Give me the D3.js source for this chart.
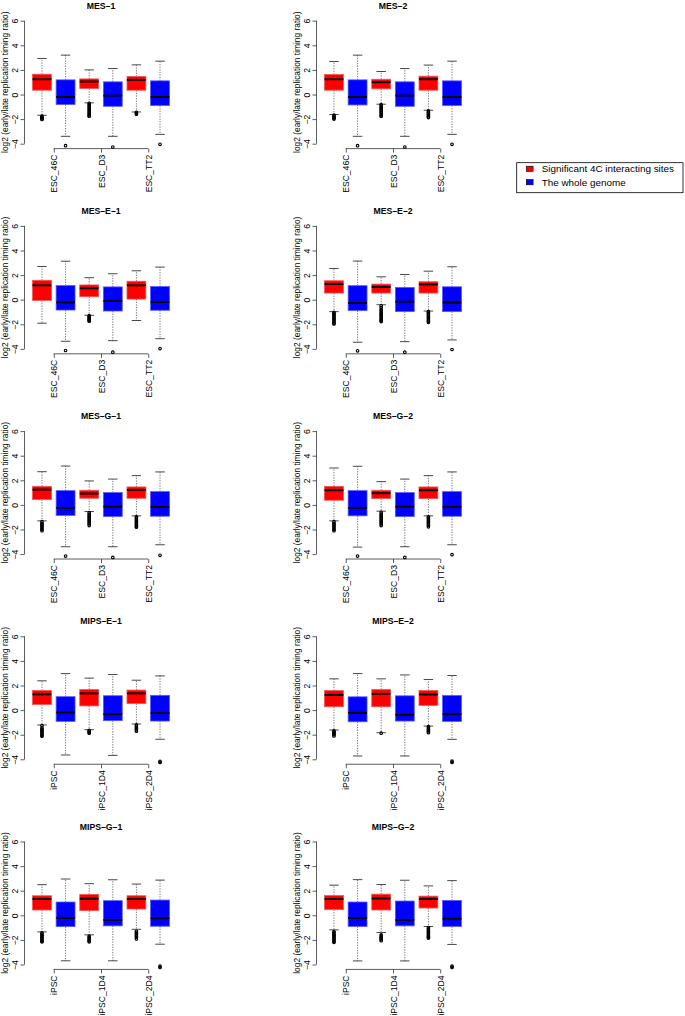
<!DOCTYPE html>
<html>
<head>
<meta charset="utf-8">
<script src="https://cdn.jsdelivr.net/npm/d3@7"></script>
<style>
  body { margin: 0; background: #fff; }
  svg { display: block; font-family: "Liberation Sans", Arial, Helvetica, sans-serif; }
</style>
</head>
<body>
<svg id="chart" width="685" height="1016"></svg>
<script>
// ---------------- DATA ----------------
const panelTitles = ["MES\u20131","MES\u20132","MES\u2013E\u20131","MES\u2013E\u20132","MES\u2013G\u20131","MES\u2013G\u20132","MIPS\u2013E\u20131","MIPS\u2013E\u20132","MIPS\u2013G\u20131","MIPS\u2013G\u20132"];
const mesGroups = ["ESC_46C","ESC_D3","ESC_TT2"];
const mipsGroups = ["iPSC","iPSC_1D4","iPSC_2D4"];
const seriesNames = ["Significant 4C interacting sites","The whole genome"];
const seriesColors = ["#ff0000","#0000ff"];
const yTicks = [-4,-2,0,2,4,6];
const yLabel = "log2 (early/late replication timing ratio)";

// box stats per panel: [lowerWhisker, Q1, median, Q3, upperWhisker]
// order: group1 sig, group1 genome, group2 sig, group2 genome, group3 sig, group3 genome
const mes1Stats = [[-1.69,0.35,1.24,1.65,2.93],[-3.40,-0.82,-0.20,1.19,3.20],[-0.68,0.48,1.05,1.27,2.00],[-3.40,-0.96,-0.09,1.03,2.11],[-1.42,0.35,1.19,1.46,2.41],[-3.24,-0.90,-0.20,1.11,2.71]];
const mes1Outliers = [[-1.75,-1.82,-1.9,-1.97,-2.03],[-4.16],[-0.72,-0.82,-0.92,-1.02,-1.12,-1.22,-1.32,-1.42,-1.52,-1.62,-1.72,-1.77],[-4.27],[-1.45,-1.52,-1.6],[-4.05]];

const mes2Stats = [[-1.63,0.35,1.24,1.63,2.68],[-3.40,-0.85,-0.20,1.19,3.20],[-0.79,0.46,1.00,1.24,1.87],[-3.40,-0.96,-0.09,1.03,2.11],[-1.28,0.35,1.24,1.49,2.39],[-3.24,-0.90,-0.20,1.11,2.71]];
const mes2Outliers = [[-1.68,-1.76,-1.84,-1.92,-2.0],[-4.16],[-0.83,-0.93,-1.03,-1.13,-1.23,-1.33,-1.43,-1.53,-1.63,-1.73,-1.77],[-4.27],[-1.33,-1.42,-1.51,-1.6,-1.7,-1.8,-1.88],[-4.05]];

const mesE1Stats = [[-1.91,-0.06,1.17,1.58,2.70],[-3.38,-0.84,-0.22,1.15,3.13],[-1.27,0.24,0.93,1.20,1.79],[-3.33,-0.92,-0.11,1.04,2.11],[-1.69,0.05,1.17,1.50,2.35],[-3.17,-0.86,-0.19,1.07,2.65]];
const mesE1Outliers = [[],[-4.13],[-1.3,-1.38,-1.46,-1.54,-1.62,-1.7,-1.75],[-4.27],[],[-3.97]];

const mesE2Stats = [[-0.97,0.54,1.27,1.54,2.54],[-3.46,-0.89,-0.27,1.14,3.14],[-0.41,0.54,1.03,1.27,1.86],[-3.41,-0.97,-0.16,1.00,2.05],[-0.92,0.54,1.24,1.46,2.32],[-3.27,-0.97,-0.22,1.05,2.68]];
const mesE2Outliers = [[-1.02,-1.1,-1.2,-1.3,-1.4,-1.5,-1.6,-1.7,-1.8,-1.9,-1.97],[-4.16],[-0.5,-0.65,-0.8,-0.9,-1.0,-1.1,-1.2,-1.3,-1.4,-1.5,-1.6,-1.7,-1.78],[-4.27],[-0.97,-1.05,-1.15,-1.25,-1.35,-1.45,-1.55,-1.65,-1.75,-1.84],[-4.05]];

const mesG1Stats = [[-1.30,0.43,1.24,1.51,2.70],[-3.40,-0.86,-0.24,1.16,3.16],[-0.54,0.54,0.92,1.19,1.95],[-3.40,-0.95,-0.14,1.00,2.10],[-0.89,0.54,1.22,1.46,2.38],[-3.24,-0.92,-0.16,1.08,2.68]];
const mesG1Outliers = [[-1.35,-1.5,-1.6,-1.7,-1.8,-1.9,-2.0,-2.1],[-4.16],[-0.62,-0.75,-0.85,-0.95,-1.05,-1.15,-1.25,-1.35,-1.45,-1.55,-1.68],[-4.27],[-0.97,-1.05,-1.15,-1.25,-1.35,-1.45,-1.55,-1.65,-1.75,-1.81],[-4.1]];

const mesG2Stats = [[-1.30,0.38,1.19,1.51,3.00],[-3.43,-0.89,-0.24,1.16,3.14],[-0.51,0.51,0.95,1.19,1.89],[-3.40,-0.95,-0.14,1.00,2.10],[-0.89,0.51,1.19,1.46,2.38],[-3.24,-0.92,-0.16,1.08,2.68]];
const mesG2Outliers = [[-1.35,-1.5,-1.6,-1.7,-1.8,-1.9,-2.0,-2.1],[-4.16],[-0.6,-0.75,-0.85,-0.95,-1.05,-1.15,-1.25,-1.35,-1.45,-1.55,-1.68],[-4.27],[-0.97,-1.05,-1.15,-1.25,-1.35,-1.45,-1.55,-1.65,-1.78],[-4.05]];

const mipsE1Stats = [[-1.21,0.45,1.28,1.60,2.38],[-3.65,-0.92,-0.19,1.09,2.97],[-1.59,0.34,1.36,1.68,2.60],[-3.68,-0.86,-0.33,1.17,2.89],[-1.13,0.53,1.36,1.63,2.43],[-2.37,-0.89,-0.25,1.20,2.78]];
const mipsE1Outliers = [[-1.25,-1.45,-1.55,-1.65,-1.75,-1.85,-1.95,-2.05,-2.12],[],[-1.65,-1.72,-1.8,-1.88],[],[-1.2,-1.3,-1.4,-1.5,-1.6,-1.72],[-4.16,-4.25]];

const mipsE2Stats = [[-1.62,0.27,1.24,1.59,2.54],[-3.73,-0.95,-0.22,1.08,2.97],[-1.84,0.27,1.32,1.68,2.54],[-3.73,-0.89,-0.38,1.16,2.86],[-1.30,0.38,1.27,1.59,2.49],[-2.38,-0.92,-0.32,1.19,2.81]];
const mipsE2Outliers = [[-1.68,-1.76,-1.84,-1.92,-2.0,-2.1],[],[-1.88],[],[-1.35,-1.45,-1.55,-1.65,-1.75,-1.84],[-4.15,-4.25]];

const mipsG1Stats = [[-1.35,0.43,1.32,1.59,2.49],[-3.70,-0.92,-0.22,1.08,2.95],[-1.59,0.38,1.35,1.70,2.57],[-3.70,-0.86,-0.38,1.19,2.89],[-1.14,0.51,1.32,1.59,2.54],[-2.35,-0.89,-0.24,1.24,2.86]];
const mipsG1Outliers = [[-1.43,-1.52,-1.62,-1.72,-1.82,-1.92,-2.02,-2.1,-2.16],[],[-1.7,-1.8,-1.9,-2.0,-2.08,-2.16],[],[-1.3,-1.4,-1.5,-1.6,-1.7,-1.8,-1.92],[-4.14,-4.24]];

const mipsG2Stats = [[-1.18,0.46,1.32,1.61,2.45],[-3.71,-0.91,-0.22,1.08,2.90],[-1.40,0.43,1.37,1.72,2.50],[-3.71,-0.86,-0.38,1.16,2.85],[-0.91,0.59,1.32,1.56,2.39],[-2.37,-0.91,-0.27,1.21,2.82]];
const mipsG2Outliers = [[-1.32,-1.42,-1.52,-1.62,-1.72,-1.82,-1.92,-2.02,-2.12,-2.2],[],[-1.59,-1.68,-1.78,-1.88,-1.98,-2.07],[],[-1.0,-1.1,-1.2,-1.3,-1.4,-1.5,-1.6,-1.7,-1.78,-1.85],[-4.14,-4.24]];

// ---------------- LAYOUT ----------------
const panels = [
  {title: panelTitles[0], groups: mesGroups, stats: mes1Stats, outliers: mes1Outliers},
  {title: panelTitles[1], groups: mesGroups, stats: mes2Stats, outliers: mes2Outliers},
  {title: panelTitles[2], groups: mesGroups, stats: mesE1Stats, outliers: mesE1Outliers},
  {title: panelTitles[3], groups: mesGroups, stats: mesE2Stats, outliers: mesE2Outliers},
  {title: panelTitles[4], groups: mesGroups, stats: mesG1Stats, outliers: mesG1Outliers},
  {title: panelTitles[5], groups: mesGroups, stats: mesG2Stats, outliers: mesG2Outliers},
  {title: panelTitles[6], groups: mipsGroups, stats: mipsE1Stats, outliers: mipsE1Outliers},
  {title: panelTitles[7], groups: mipsGroups, stats: mipsE2Stats, outliers: mipsE2Outliers},
  {title: panelTitles[8], groups: mipsGroups, stats: mipsG1Stats, outliers: mipsG1Outliers},
  {title: panelTitles[9], groups: mipsGroups, stats: mipsG2Stats, outliers: mipsG2Outliers}
];

const colLeft = [24.5, 316.5];
const rowY6 = [20.7, 225.9, 431.1, 636.3, 841.5];
const ppu = 12.3;
const plotW = 153;
const yMin = -4.4, yMax = 6.4;
const plotH = (yMax - yMin) * ppu;

const svg = d3.select("#chart");
svg.append("rect").attr("width", 685).attr("height", 1016).attr("fill", "#fff");

const x = d3.scaleLinear().domain([0.26, 6.74]).range([0, plotW]);
const y = d3.scaleLinear().domain([yMin, yMax]).range([plotH, 0]);
const boxW = x(1.4) - x(0.6);
const axisColor = "#333";
const fontSize = 8.6;

panels.forEach((p, i) => {
  const col = i % 2, row = Math.floor(i / 2);
  const top = rowY6[row] - (yMax - 6) * ppu;
  const g = svg.append("g").attr("transform", `translate(${colLeft[col]},${top})`);

  // title
  g.append("text")
    .attr("x", x(3.5)).attr("y", y(6) - 12)
    .attr("text-anchor", "middle")
    .attr("font-weight", "bold")
    .attr("font-size", 8.7)
    .attr("fill", "#000")
    .text(p.title);

  // y label
  g.append("text")
    .attr("transform", `translate(-16.5,${y(1)}) rotate(-90)`)
    .attr("text-anchor", "middle")
    .attr("font-size", 8.4)
    .attr("fill", "#000")
    .text(yLabel);

  // y axis
  const ya = g.append("g").call(d3.axisLeft(y).tickValues(yTicks).tickSize(4).tickFormat(d => d < 0 ? "\u2212" + Math.abs(d) : d));
  ya.select(".domain").remove();
  ya.selectAll(".tick line").attr("stroke", axisColor).attr("stroke-width", 0.8);
  ya.selectAll(".tick text")
    .attr("x", null).attr("dy", null)
    .attr("transform", "translate(-7,0) rotate(-90)")
    .attr("text-anchor", "middle")
    .attr("font-size", fontSize)
    .attr("font-family", "Liberation Sans, Arial, sans-serif")
    .attr("fill", "#000");
  g.append("line").attr("x1", 0).attr("x2", 0).attr("y1", y(-4)).attr("y2", y(6))
    .attr("stroke", axisColor).attr("stroke-width", 0.8);

  // x axis
  const xt = [1.5, 3.5, 5.5];
  const xa = g.append("g").attr("transform", `translate(0,${plotH})`)
    .call(d3.axisBottom(x).tickValues(xt).tickSize(4).tickFormat((d, k) => p.groups[k]));
  xa.select(".domain").remove();
  xa.selectAll(".tick line").attr("stroke", axisColor).attr("stroke-width", 0.8);
  xa.selectAll(".tick text")
    .attr("y", null).attr("dy", null)
    .attr("transform", "translate(3,6) rotate(-90)")
    .attr("text-anchor", "end")
    .attr("font-size", fontSize)
    .attr("font-family", "Liberation Sans, Arial, sans-serif")
    .attr("fill", "#000");
  xa.append("line").attr("x1", x(1.5)).attr("x2", x(5.5)).attr("y1", 0).attr("y2", 0)
    .attr("stroke", axisColor).attr("stroke-width", 0.8);

  // boxes
  p.stats.forEach((s, k) => {
    const pos = k + 1;
    const cx = x(pos);
    const color = seriesColors[k % 2];
    const bg = g.append("g");
    const [lw, q1, med, q3, uw] = s;
    // whiskers
    bg.append("line").attr("x1", cx).attr("x2", cx).attr("y1", y(q3)).attr("y2", y(uw))
      .attr("stroke", "#555").attr("stroke-width", 0.8).attr("stroke-dasharray", "1.3,1.3");
    bg.append("line").attr("x1", cx).attr("x2", cx).attr("y1", y(q1)).attr("y2", y(lw))
      .attr("stroke", "#555").attr("stroke-width", 0.8).attr("stroke-dasharray", "1.3,1.3");
    // caps
    [lw, uw].forEach(v => {
      bg.append("line").attr("x1", cx - boxW / 4).attr("x2", cx + boxW / 4)
        .attr("y1", y(v)).attr("y2", y(v)).attr("stroke", "#333").attr("stroke-width", 0.9);
    });
    // box
    bg.append("rect")
      .attr("x", cx - boxW / 2).attr("y", y(q3))
      .attr("width", boxW).attr("height", y(q1) - y(q3))
      .attr("fill", color)
      .attr("stroke", k % 2 === 0 ? "#f05a5a" : "#5a5aff").attr("stroke-width", 0.8);
    // median
    bg.append("line").attr("x1", cx - boxW / 2).attr("x2", cx + boxW / 2)
      .attr("y1", y(med)).attr("y2", y(med)).attr("stroke", "#000").attr("stroke-width", 1.9);
    // outliers
    bg.selectAll("circle.out").data(p.outliers[k]).enter().append("circle")
      .attr("class", "out")
      .attr("cx", cx).attr("cy", d => y(d)).attr("r", 1.3)
      .attr("fill", "none").attr("stroke", "#000").attr("stroke-width", 1.1);
  });
});

// legend
const lg = svg.append("g");
lg.append("rect").attr("x", 516.7).attr("y", 162.7).attr("width", 166.3).attr("height", 30)
  .attr("fill", "#fff").attr("stroke", "#000").attr("stroke-width", 0.8);
seriesNames.forEach((nm, k) => {
  const cy = 168.8 + k * 13.4;
  lg.append("rect").attr("x", 526.3).attr("y", cy - 2.6).attr("width", 6.8).attr("height", 5.2)
    .attr("fill", seriesColors[k]).attr("stroke", "#000").attr("stroke-width", 0.6);
  lg.append("text").attr("x", 541.7).attr("y", cy + 3.5)
    .attr("font-size", 9.9).attr("fill", "#000").text(nm);
});
</script>
</body>
</html>
